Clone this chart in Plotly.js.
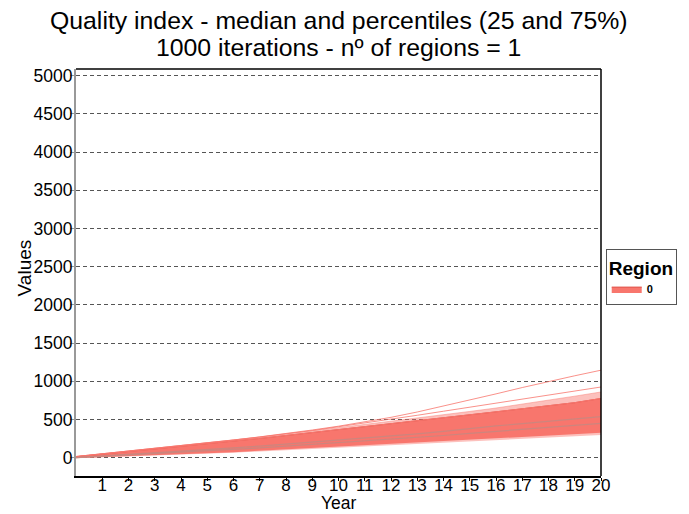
<!DOCTYPE html>
<html>
<head>
<meta charset="utf-8">
<script src="https://cdn.plot.ly/plotly-3.0.1.min.js"></script>
<style>html,body{margin:0;padding:0;background:#fff;}#chart{width:689px;height:514px;}</style>
</head>
<body>
<div id="chart"></div>
<script>
// Years of the simulation
const years = [0,1,2,3,4,5,6,7,8,9,10,11,12,13,14,15,16,17,18,19,20];
// Outer (sparse) envelope of the 1000 iteration lines
const lightLow  = [-8,3,12,24,36,50,65,82,98,116,135,150,165,180,195,210,225,240,257,275,296];
const lightHigh = [15,50,85,120,155,190,228,268,308,350,392,432,472,515,560,605,650,700,750,805,860];
// Dense core of the iteration lines
const bandLow   = [-3,8,18,30,43,57,72,90,106,125,145,162,178,195,212,230,248,267,286,306,326];
const bandHigh  = [12,45,80,113,145,178,215,252,290,328,365,402,440,480,520,560,600,640,680,720,775];
// Individual outlying iterations
const iterA = [15,50,85,120,155,192,232,272,315,362,412,468,528,598,675,752,835,918,1000,1072,1145];
const iterB = [15,50,85,120,155,190,230,270,310,355,405,452,500,555,608,660,712,766,820,872,925];
// Summary lines (percentile / median) visible inside the band
const pctUpper = [0,20,40,60,82,105,128,152,178,205,232,258,285,312,345,383,415,445,475,506,537];
const pctLower = [0,17,34,52,70,88,108,128,150,172,195,217,240,262,290,318,345,372,398,424,450];
const regionName = "0";
const yTicks = [0,500,1000,1500,2000,2500,3000,3500,4000,4500,5000];
const xTicks = [1,2,3,4,5,6,7,8,9,10,11,12,13,14,15,16,17,18,19,20];
const titleLines = ["Quality index - median and percentiles (25 and 75%)", "1000 iterations - nº of regions = 1"];

const red = "#F8766D";
const font = "Liberation Sans, Arial, sans-serif";

const traces = [
  {x: years, y: lightLow, mode: "lines", line: {width: 0, color: red}, showlegend: false, hoverinfo: "skip"},
  {x: years, y: lightHigh, mode: "lines", line: {width: 1, color: "rgba(248,118,109,0.45)"}, fill: "tonexty", fillcolor: "rgba(248,118,109,0.45)", showlegend: false},
  {x: years, y: bandLow, mode: "lines", line: {width: 0, color: red}, showlegend: false, hoverinfo: "skip"},
  {x: years, y: bandHigh, mode: "lines", name: regionName, line: {width: 1, color: "#e0554b"}, fill: "tonexty", fillcolor: red, showlegend: true},
  {x: years, y: bandHigh, mode: "lines", line: {width: 1, color: red}, showlegend: false},
  {x: years, y: iterA, mode: "lines", line: {width: 1, color: "rgba(248,118,109,0.8)"}, showlegend: false},
  {x: years, y: iterB, mode: "lines", line: {width: 1, color: "rgba(248,118,109,0.8)"}, showlegend: false},
  {x: years, y: pctUpper, mode: "lines", line: {width: 1.2, color: "rgba(200,135,128,0.9)"}, showlegend: false},
  {x: years, y: pctLower, mode: "lines", line: {width: 1.2, color: "rgba(200,135,128,0.9)"}, showlegend: false}
];

const layout = {
  width: 689, height: 514,
  margin: {l: 76, r: 84, t: 69, b: 38},
  paper_bgcolor: "#fff", plot_bgcolor: "#fff",
  font: {family: font, color: "#000"},
  xaxis: {
    range: [0, 20], tickvals: xTicks, ticktext: xTicks.map(String),
    showgrid: false, zeroline: false,
    showline: true, linecolor: "#000", linewidth: 1.5,
    ticks: "outside", ticklen: 3, tickcolor: "#000", tickwidth: 1,
    ticklabelstandoff: -10,
    tickfont: {family: font, size: 17, color: "#000"},
    automargin: false
  },
  yaxis: {
    range: [-240, 5088], tickvals: yTicks, ticktext: yTicks.map(String),
    showgrid: true, gridcolor: "#555", gridwidth: 1, griddash: "4px,3px",
    zeroline: false,
    showline: true, linecolor: "#999", linewidth: 2,
    ticks: "outside", ticklen: 4, tickcolor: "#999", tickwidth: 1,
    ticklabelstandoff: -6,
    tickfont: {family: font, size: 17.5, color: "#000"},
    automargin: false
  },
  annotations: [
    {text: titleLines[0], xref: "paper", yref: "paper", x: 0.5, y: (476 - 20) / 407, xanchor: "center", yanchor: "middle",
     showarrow: false, font: {family: font, size: 24.8, color: "#000"}},
    {text: titleLines[1], xref: "paper", yref: "paper", x: 0.5, y: (476 - 47) / 407, xanchor: "center", yanchor: "middle",
     showarrow: false, font: {family: font, size: 24.8, color: "#000"}},
    {text: "Year", xref: "paper", yref: "paper", x: 0.5, y: (476 - 514) / 407, xanchor: "center", yanchor: "bottom",
     borderpad: 0, showarrow: false, font: {family: font, size: 17.5, color: "#000"}},
    {text: "Values", xref: "paper", yref: "paper", x: (24 - 76) / 529, y: (476 - 268) / 407, xanchor: "center", yanchor: "middle",
     textangle: -90, showarrow: false, font: {family: font, size: 19, color: "#000"}}
  ],
  shapes: [
    {type: "line", xref: "paper", yref: "paper", x0: 0, x1: 1, y0: 1, y1: 1, line: {color: "#000", width: 1.5}},
    {type: "line", xref: "paper", yref: "paper", x0: 1, x1: 1, y0: 0, y1: 1, line: {color: "#000", width: 1.5}}
  ],
  showlegend: true,
  legend: {
    x: 1.009, xanchor: "left", y: 0.558, yanchor: "top",
    bordercolor: "#555", borderwidth: 1, bgcolor: "#fff",
    title: {text: "Region", font: {family: font, size: 19, color: "#000"}},
    font: {family: font, size: 11, color: "#000", weight: "bold"},
    itemwidth: 30
  }
};

Plotly.newPlot("chart", traces, layout, {displayModeBar: false, staticPlot: true});
</script>
</body>
</html>
